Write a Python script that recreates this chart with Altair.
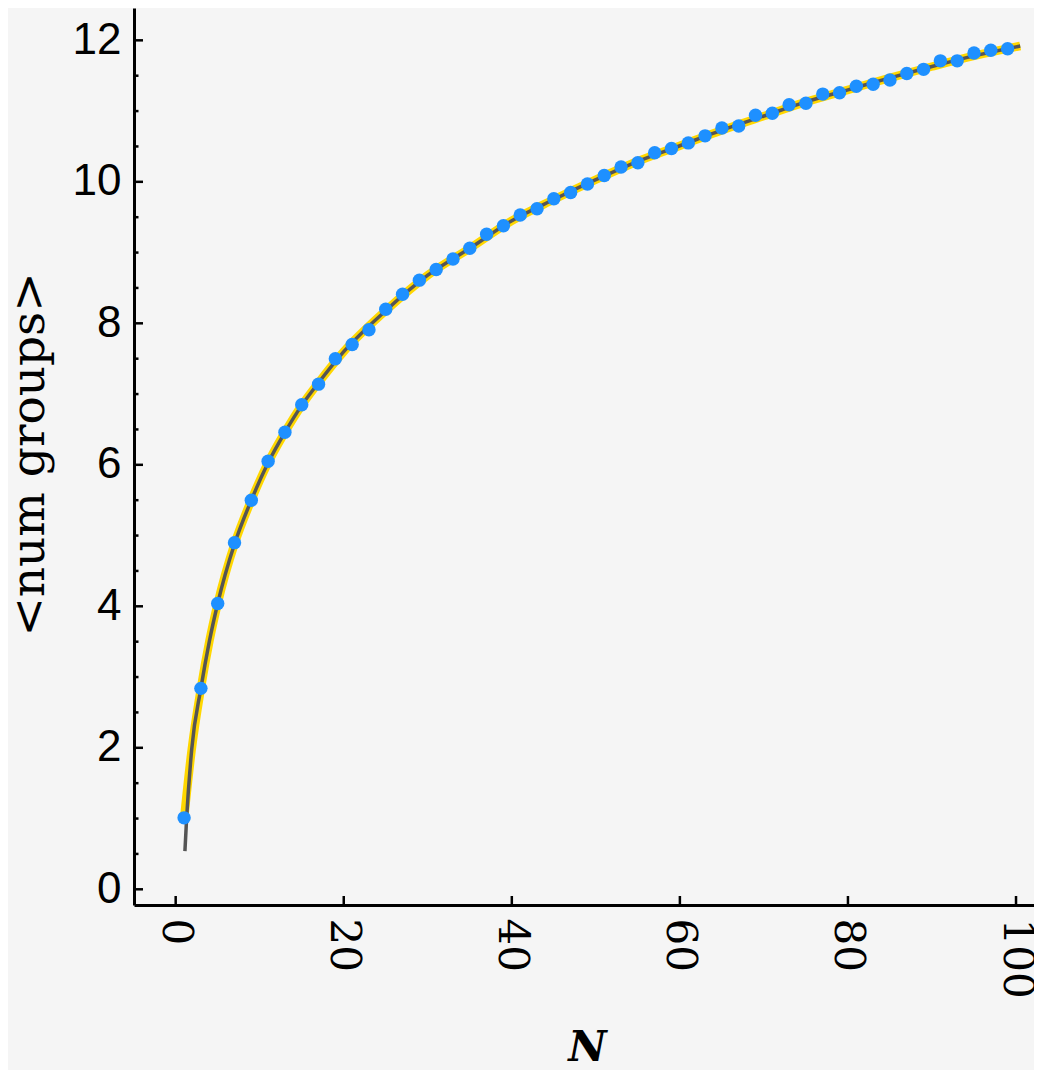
import altair as alt
import pandas as pd

# ---- data ----
point_N = [1, 3, 5, 7, 9, 11, 13, 15, 17, 19, 21, 23, 25, 27, 29, 31, 33, 35, 37, 39,
           41, 43, 45, 47, 49, 51, 53, 55, 57, 59, 61, 63, 65, 67, 69, 71, 73, 75, 77, 79,
           81, 83, 85, 87, 89, 91, 93, 95, 97, 99]
point_groups = [1.01, 2.84, 4.04, 4.90, 5.50, 6.05, 6.46, 6.85, 7.14, 7.50,
                7.70, 7.91, 8.20, 8.41, 8.61, 8.76, 8.91, 9.06, 9.26, 9.38,
                9.53, 9.62, 9.76, 9.85, 9.97, 10.09, 10.21, 10.27, 10.41, 10.47,
                10.55, 10.65, 10.76, 10.79, 10.94, 10.97, 11.09, 11.11, 11.24, 11.26,
                11.35, 11.38, 11.44, 11.53, 11.59, 11.71, 11.71, 11.82, 11.86, 11.88]

# yellow (thick) curve
fit_N = [1, 1.9, 3, 4, 5, 7, 9, 11, 13, 15, 17, 20, 25, 30, 35, 40, 45, 50, 55, 60,
         65, 70, 75, 80, 85, 90, 95, 100.5]
fit_groups = [1.0, 1.97, 2.84, 3.50, 4.04, 4.88, 5.50, 6.03, 6.46, 6.84, 7.16, 7.60, 8.18,
              8.68, 9.06, 9.45, 9.75, 10.03, 10.29, 10.51, 10.73, 10.93, 11.13, 11.30,
              11.47, 11.63, 11.78, 11.92]

# dark (thin) curve
approx_N = [1.1, 1.3, 1.9, 3, 4, 5, 7, 9, 11, 13, 15, 17, 20, 25, 30, 35, 40, 45, 50, 55,
            60, 65, 70, 75, 80, 85, 90, 95, 100.5]
approx_groups = [0.54, 1.0, 1.97, 2.84, 3.50, 4.04, 4.88, 5.50, 6.03, 6.46, 6.84, 7.16, 7.60,
                 8.18, 8.68, 9.06, 9.45, 9.75, 10.03, 10.29, 10.51, 10.73, 10.93, 11.13,
                 11.30, 11.47, 11.63, 11.78, 11.92]

x_ticks = [0, 20, 40, 60, 80, 100]
y_major = [0, 2, 4, 6, 8, 10, 12]
y_minor = [0.5, 1, 1.5, 2.5, 3, 3.5, 4.5, 5, 5.5, 6.5, 7, 7.5, 8.5, 9, 9.5,
           10.5, 11, 11.5, 12.5]

x_domain = [-4.96, 102.14]
y_domain = [-0.222, 12.457]

W, H = 900, 897

xs = alt.Scale(domain=x_domain, nice=False, zero=False)
ys = alt.Scale(domain=y_domain, nice=False, zero=False)

pts_df = pd.DataFrame({"N": point_N, "groups": point_groups})
fit_df = pd.DataFrame({"N": fit_N, "groups": fit_groups})
approx_df = pd.DataFrame({"N": approx_N, "groups": approx_groups})

x_axis = alt.Axis(
    values=x_ticks, ticks=False, tickSize=0, grid=False,
    domainColor="black", domainWidth=3,
    labelAngle=90, labelFont="DejaVu Serif", labelFontSize=42,
    labelColor="black", labelPadding=13, labelFlush=False, labelOverlap=False,
    title="N", titleFont="DejaVu Serif", titleFontStyle="italic",
    titleFontWeight="bold", titleFontSize=42, titleColor="black",
    titleX=453, titleY=155, titleAlign="center", titleBaseline="alphabetic",
)
y_axis = alt.Axis(
    values=y_major, ticks=False, tickSize=0, grid=False, format="d",
    domainColor="black", domainWidth=3,
    labelFont="Liberation Sans", labelFontSize=44, labelColor="black",
    labelPadding=13, labelFlush=False, labelOverlap=False,
    title="<num groups>", titleFont="DejaVu Serif", titleFontWeight="normal",
    titleFontSize=47, titleColor="black", titleAngle=270,
    titleX=-91, titleY=446, titleAlign="center", titleBaseline="alphabetic",
)


def X(field="N"):
    return alt.X(f"{field}:Q", scale=xs, axis=x_axis, title="N")


def Y(field="groups"):
    return alt.Y(f"{field}:Q", scale=ys, axis=y_axis, title="<num groups>")


yellow = alt.Chart(fit_df).mark_line(
    color="#FFD700", strokeWidth=8.5, interpolate="monotone"
).encode(x=X(), y=Y())

gray = alt.Chart(approx_df).mark_line(
    color="#555555", strokeWidth=3.5, interpolate="monotone"
).encode(x=X(), y=Y())

points = alt.Chart(pts_df).mark_circle(
    size=180, color="#1E90FF", opacity=1
).encode(x=X(), y=Y())

ytick_major = alt.Chart(pd.DataFrame({"groups": y_major})).mark_rule(
    color="black", strokeWidth=2.5
).encode(y=Y(), x=alt.value(0), x2=alt.value(9))

ytick_minor = alt.Chart(pd.DataFrame({"groups": y_minor})).mark_rule(
    color="black", strokeWidth=2.5
).encode(y=Y(), x=alt.value(0), x2=alt.value(4.5))

xtick = alt.Chart(pd.DataFrame({"N": x_ticks})).mark_rule(
    color="black", strokeWidth=2.5
).encode(x=X(), y=alt.value(H), y2=alt.value(H - 9))

chart = alt.layer(
    yellow, gray, points, ytick_major, ytick_minor, xtick
).properties(
    width=W, height=H,
    padding={"left": 126, "top": 0, "right": 0, "bottom": 165},
    autosize=alt.AutoSizeParams(type="none"),
    background="#F5F5F5",
).configure_view(stroke=None)

chart.save("out.html", embed_options={"renderer": "svg", "actions": False})
